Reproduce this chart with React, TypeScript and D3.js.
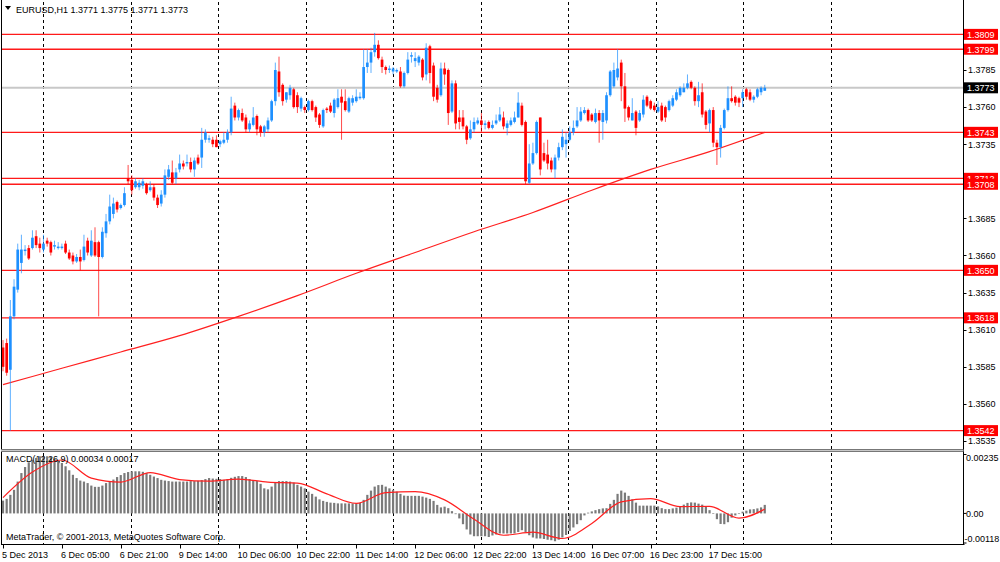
import React from 'react';
import * as d3 from 'd3';

// EURUSD H1 candles, 5 Dec 13:00 .. 18 Dec 07:00 — [open, high, low, close]
const candles: [number, number, number, number][] = [
  [1.3598, 1.3603, 1.3582, 1.3585], [1.3601, 1.3604, 1.3579, 1.3581], [1.3583, 1.3630, 1.3542, 1.3619], [1.3619, 1.3644, 1.3617, 1.3639],
  [1.3637, 1.3668, 1.3635, 1.3664], [1.3655, 1.3674, 1.3648, 1.3664], [1.3663, 1.3667, 1.3660, 1.3664], [1.3665, 1.3667, 1.3657, 1.3658],
  [1.3665, 1.3677, 1.3664, 1.3672], [1.3673, 1.3677, 1.3665, 1.3667], [1.3668, 1.3672, 1.3662, 1.3665], [1.3664, 1.3674, 1.3662, 1.3668],
  [1.3670, 1.3672, 1.3666, 1.3668], [1.3669, 1.3670, 1.3660, 1.3662], [1.3666, 1.3670, 1.3664, 1.3667], [1.3665, 1.3669, 1.3664, 1.3666],
  [1.3665, 1.3668, 1.3664, 1.3666], [1.3668, 1.3670, 1.3661, 1.3662], [1.3662, 1.3664, 1.3657, 1.3658], [1.3660, 1.3662, 1.3654, 1.3656],
  [1.3656, 1.3661, 1.3655, 1.3659], [1.3659, 1.3664, 1.3650, 1.3656], [1.3657, 1.3674, 1.3656, 1.3666], [1.3670, 1.3672, 1.3660, 1.3662],
  [1.3660, 1.3677, 1.3659, 1.3670], [1.3669, 1.3679, 1.3659, 1.3660], [1.3669, 1.3670, 1.3619, 1.3659], [1.3659, 1.3679, 1.3658, 1.3676],
  [1.3675, 1.3688, 1.3672, 1.3683], [1.3683, 1.3701, 1.3681, 1.3693], [1.3688, 1.3699, 1.3685, 1.3695], [1.3696, 1.3697, 1.3689, 1.3691],
  [1.3692, 1.3695, 1.3691, 1.3694], [1.3694, 1.3706, 1.3693, 1.3702], [1.3712, 1.3721, 1.3708, 1.3710], [1.3711, 1.3714, 1.3701, 1.3704],
  [1.3706, 1.3712, 1.3705, 1.3710], [1.3706, 1.3711, 1.3704, 1.3709], [1.3707, 1.3712, 1.3705, 1.3710], [1.3708, 1.3709, 1.3701, 1.3702],
  [1.3704, 1.3710, 1.3703, 1.3706], [1.3706, 1.3708, 1.3697, 1.3699], [1.3699, 1.3701, 1.3692, 1.3694], [1.3695, 1.3704, 1.3693, 1.3701],
  [1.3701, 1.3718, 1.3699, 1.3714], [1.3713, 1.3721, 1.3711, 1.3718], [1.3716, 1.3724, 1.3708, 1.3709], [1.3712, 1.3719, 1.3708, 1.3716],
  [1.3718, 1.3728, 1.3716, 1.3722], [1.3722, 1.3724, 1.3718, 1.3720], [1.3722, 1.3728, 1.3720, 1.3723], [1.3723, 1.3726, 1.3716, 1.3718],
  [1.3718, 1.3726, 1.3713, 1.3724], [1.3726, 1.3728, 1.3721, 1.3722], [1.3726, 1.3746, 1.3719, 1.3738], [1.3738, 1.3745, 1.3736, 1.3743],
  [1.3738, 1.3741, 1.3736, 1.3739], [1.3738, 1.3740, 1.3733, 1.3735], [1.3738, 1.3741, 1.3733, 1.3733], [1.3735, 1.3738, 1.3733, 1.3737],
  [1.3736, 1.3743, 1.3735, 1.3738], [1.3738, 1.3745, 1.3736, 1.3743], [1.3743, 1.3767, 1.3741, 1.3759], [1.3761, 1.3763, 1.3751, 1.3753],
  [1.3753, 1.3759, 1.3751, 1.3758], [1.3756, 1.3759, 1.3750, 1.3751], [1.3753, 1.3755, 1.3743, 1.3745], [1.3745, 1.3751, 1.3743, 1.3749],
  [1.3748, 1.3760, 1.3747, 1.3753], [1.3754, 1.3755, 1.3741, 1.3745], [1.3747, 1.3748, 1.3740, 1.3743], [1.3743, 1.3748, 1.3740, 1.3747],
  [1.3745, 1.3753, 1.3743, 1.3751], [1.3751, 1.3765, 1.3750, 1.3764], [1.3764, 1.3790, 1.3761, 1.3785], [1.3784, 1.3794, 1.3767, 1.3770],
  [1.3775, 1.3776, 1.3761, 1.3764], [1.3765, 1.3770, 1.3763, 1.3770], [1.3768, 1.3775, 1.3765, 1.3773], [1.3772, 1.3773, 1.3759, 1.3760],
  [1.3768, 1.3770, 1.3756, 1.3760], [1.3759, 1.3767, 1.3757, 1.3766], [1.3760, 1.3761, 1.3756, 1.3758], [1.3758, 1.3765, 1.3757, 1.3764],
  [1.3764, 1.3765, 1.3757, 1.3758], [1.3760, 1.3761, 1.3750, 1.3753], [1.3755, 1.3756, 1.3746, 1.3748], [1.3747, 1.3759, 1.3746, 1.3758],
  [1.3759, 1.3760, 1.3756, 1.3758], [1.3761, 1.3763, 1.3756, 1.3757], [1.3756, 1.3766, 1.3753, 1.3765], [1.3760, 1.3772, 1.3759, 1.3766],
  [1.3767, 1.3772, 1.3738, 1.3763], [1.3764, 1.3772, 1.3757, 1.3758], [1.3757, 1.3767, 1.3756, 1.3766], [1.3763, 1.3768, 1.3761, 1.3766],
  [1.3764, 1.3772, 1.3763, 1.3767], [1.3766, 1.3770, 1.3765, 1.3767], [1.3766, 1.3799, 1.3765, 1.3787], [1.3787, 1.3799, 1.3783, 1.3790],
  [1.3790, 1.3800, 1.3783, 1.3797], [1.3797, 1.3810, 1.3794, 1.3802], [1.3802, 1.3805, 1.3792, 1.3793], [1.3792, 1.3794, 1.3783, 1.3787],
  [1.3787, 1.3788, 1.3782, 1.3785], [1.3785, 1.3788, 1.3783, 1.3786], [1.3784, 1.3787, 1.3782, 1.3786], [1.3784, 1.3786, 1.3783, 1.3785],
  [1.3784, 1.3787, 1.3773, 1.3774], [1.3774, 1.3784, 1.3773, 1.3783], [1.3783, 1.3797, 1.3782, 1.3792], [1.3794, 1.3797, 1.3790, 1.3795],
  [1.3791, 1.3797, 1.3787, 1.3793], [1.3790, 1.3795, 1.3788, 1.3794], [1.3792, 1.3793, 1.3778, 1.3780], [1.3782, 1.3803, 1.3778, 1.3800],
  [1.3801, 1.3802, 1.3776, 1.3783], [1.3788, 1.3790, 1.3764, 1.3767], [1.3773, 1.3775, 1.3763, 1.3765], [1.3768, 1.3790, 1.3767, 1.3786],
  [1.3786, 1.3790, 1.3775, 1.3782], [1.3785, 1.3786, 1.3748, 1.3756], [1.3757, 1.3778, 1.3756, 1.3776], [1.3776, 1.3778, 1.3745, 1.3749],
  [1.3753, 1.3758, 1.3745, 1.3750], [1.3753, 1.3758, 1.3745, 1.3747], [1.3747, 1.3748, 1.3735, 1.3738], [1.3739, 1.3751, 1.3738, 1.3745],
  [1.3745, 1.3753, 1.3743, 1.3750], [1.3749, 1.3753, 1.3748, 1.3751], [1.3751, 1.3756, 1.3743, 1.3748], [1.3748, 1.3751, 1.3745, 1.3749],
  [1.3750, 1.3751, 1.3745, 1.3746], [1.3746, 1.3751, 1.3745, 1.3748], [1.3749, 1.3755, 1.3748, 1.3751], [1.3751, 1.3760, 1.3750, 1.3755],
  [1.3753, 1.3757, 1.3745, 1.3747], [1.3746, 1.3751, 1.3741, 1.3749], [1.3748, 1.3753, 1.3747, 1.3751], [1.3750, 1.3757, 1.3749, 1.3753],
  [1.3753, 1.3770, 1.3753, 1.3763], [1.3761, 1.3763, 1.3747, 1.3748], [1.3750, 1.3751, 1.3708, 1.3710], [1.3709, 1.3735, 1.3708, 1.3722],
  [1.3722, 1.3736, 1.3721, 1.3729], [1.3729, 1.3751, 1.3728, 1.3750], [1.3753, 1.3753, 1.3714, 1.3718], [1.3729, 1.3736, 1.3723, 1.3724],
  [1.3728, 1.3738, 1.3718, 1.3722], [1.3724, 1.3726, 1.3716, 1.3718], [1.3718, 1.3728, 1.3712, 1.3726], [1.3726, 1.3736, 1.3724, 1.3733],
  [1.3733, 1.3745, 1.3731, 1.3740], [1.3735, 1.3743, 1.3726, 1.3738], [1.3738, 1.3747, 1.3737, 1.3743], [1.3743, 1.3751, 1.3741, 1.3746],
  [1.3747, 1.3760, 1.3746, 1.3751], [1.3751, 1.3760, 1.3750, 1.3757], [1.3756, 1.3760, 1.3755, 1.3758], [1.3758, 1.3759, 1.3750, 1.3751],
  [1.3755, 1.3756, 1.3750, 1.3751], [1.3750, 1.3759, 1.3749, 1.3756], [1.3756, 1.3758, 1.3736, 1.3751], [1.3750, 1.3758, 1.3738, 1.3756],
  [1.3751, 1.3770, 1.3749, 1.3768], [1.3768, 1.3785, 1.3767, 1.3784], [1.3774, 1.3790, 1.3773, 1.3785], [1.3780, 1.3799, 1.3778, 1.3786],
  [1.3790, 1.3792, 1.3764, 1.3774], [1.3774, 1.3783, 1.3750, 1.3759], [1.3760, 1.3761, 1.3751, 1.3753], [1.3751, 1.3766, 1.3751, 1.3756],
  [1.3757, 1.3758, 1.3741, 1.3746], [1.3751, 1.3758, 1.3750, 1.3756], [1.3755, 1.3768, 1.3753, 1.3765], [1.3767, 1.3768, 1.3760, 1.3761],
  [1.3764, 1.3765, 1.3758, 1.3759], [1.3761, 1.3763, 1.3757, 1.3758], [1.3757, 1.3764, 1.3756, 1.3760], [1.3761, 1.3763, 1.3750, 1.3751],
  [1.3760, 1.3761, 1.3750, 1.3753], [1.3758, 1.3765, 1.3757, 1.3764], [1.3761, 1.3768, 1.3760, 1.3766], [1.3765, 1.3772, 1.3764, 1.3770],
  [1.3768, 1.3774, 1.3767, 1.3773], [1.3770, 1.3776, 1.3770, 1.3773], [1.3773, 1.3782, 1.3772, 1.3776], [1.3777, 1.3778, 1.3772, 1.3773],
  [1.3773, 1.3774, 1.3761, 1.3764], [1.3764, 1.3777, 1.3760, 1.3768], [1.3770, 1.3776, 1.3753, 1.3755], [1.3757, 1.3758, 1.3745, 1.3748],
  [1.3749, 1.3759, 1.3743, 1.3758], [1.3758, 1.3760, 1.3733, 1.3736], [1.3736, 1.3738, 1.3721, 1.3733], [1.3733, 1.3748, 1.3726, 1.3746],
  [1.3746, 1.3759, 1.3745, 1.3758], [1.3758, 1.3774, 1.3757, 1.3766], [1.3766, 1.3774, 1.3763, 1.3764], [1.3767, 1.3768, 1.3761, 1.3763],
  [1.3766, 1.3767, 1.3760, 1.3763], [1.3766, 1.3772, 1.3760, 1.3770], [1.3772, 1.3773, 1.3765, 1.3767], [1.3770, 1.3772, 1.3764, 1.3765],
  [1.3765, 1.3768, 1.3763, 1.3767], [1.3767, 1.3773, 1.3766, 1.3772], [1.3770, 1.3774, 1.3768, 1.3773], [1.3771, 1.3775, 1.3771, 1.3773],
];

// moving average (red line) read at a few bars
const maBars = [0, 16, 32, 48, 64, 80, 96, 112, 128, 144, 160, 176, 192, 207];
const maValues = [1.3573, 1.3584, 1.3595, 1.3606, 1.3619, 1.3633, 1.3648, 1.3662, 1.3676, 1.3689, 1.3704, 1.3718, 1.3730, 1.3743];

// MACD main (histogram), one per candle
const macdMain = [
  0.00051, 0.00058, 0.00074, 0.00094, 0.00127, 0.00161, 0.00185, 0.00204, 0.00214, 0.00221, 0.00228, 0.00228, 0.00228, 0.00225, 0.00218, 0.00212,
  0.00201, 0.00188, 0.00172, 0.00154, 0.00141, 0.00131, 0.00127, 0.00121, 0.00111, 0.00106, 0.00106, 0.00111, 0.00121, 0.00129, 0.00135, 0.00145,
  0.00153, 0.00161, 0.00165, 0.00168, 0.00168, 0.00168, 0.00166, 0.00161, 0.00154, 0.00147, 0.00141, 0.00134, 0.00131, 0.00129, 0.00127, 0.00127,
  0.00127, 0.00127, 0.00127, 0.00129, 0.00129, 0.0013, 0.00133, 0.00137, 0.00141, 0.00139, 0.00138, 0.00137, 0.00134, 0.00137, 0.00142, 0.00146,
  0.00149, 0.00149, 0.00145, 0.00137, 0.00133, 0.00129, 0.00118, 0.001, 0.00096, 0.00107, 0.00123, 0.00129, 0.00129, 0.00129, 0.00127, 0.00123,
  0.00114, 0.00107, 0.001, 0.00087, 0.00078, 0.00067, 0.00056, 0.0005, 0.00046, 0.00043, 0.00042, 0.0004, 0.0004, 0.0004, 0.0004, 0.0004,
  0.0004, 0.00042, 0.00054, 0.00074, 0.00091, 0.00107, 0.00113, 0.00114, 0.00107, 0.001, 0.00094, 0.00087, 0.00078, 0.00071, 0.0007, 0.0007,
  0.0007, 0.0007, 0.00067, 0.00063, 0.00058, 0.0005, 0.00034, 0.00024, 0.00027, 0.00021, 0.00009, -0.00003, -0.0002, -0.00043, -0.00064, -0.00084,
  -0.00091, -0.00091, -0.00091, -0.00091, -0.00094, -0.00088, -0.00084, -0.0008, -0.0008, -0.0008, -0.0008, -0.0008, -0.00074, -0.00067, -0.00074, -0.00087,
  -0.00096, -0.001, -0.001, -0.00102, -0.00105, -0.00107, -0.00111, -0.00105, -0.00096, -0.00086, -0.0007, -0.00056, -0.00043, -0.00027, -0.00008, 0.00003,
  0.00008, 0.00013, 0.00017, 0.0002, 0.00021, 0.00038, 0.00054, 0.00078, 0.00091, 0.00083, 0.0007, 0.00056, 0.00043, 0.00031, 0.00031, 0.00031,
  0.00031, 0.00031, 0.00028, 0.00021, 0.00017, 0.00017, 0.0002, 0.00023, 0.00028, 0.00035, 0.00042, 0.00044, 0.00043, 0.00039, 0.00035, 0.00027,
  0.00013, 0, -0.00023, -0.00042, -0.00043, -0.00035, -0.00017, -0.00008, 0, 0.00007, 0.00011, 0.00016, 0.00017, 0.0002, 0.00024, 0.00034,
];

// MACD signal line read at a few bars
const signalBars = [0, 8, 16, 24, 32, 40, 48, 56, 64, 72, 80, 88, 96, 104, 112, 120, 128, 136, 144, 152, 160, 168, 176, 184, 192, 200, 207];
const signalValues = [
  0.00063, 0.00165, 0.00213, 0.00141, 0.00125, 0.00163, 0.00135, 0.00129, 0.00137, 0.00125, 0.00121, 0.00078, 0.0004, 0.00083,
  0.00087, 0.00054, -0.00023, -0.00087, -0.00075, -0.001, -0.0004, 0.00046, 0.00059, 0.00027, 0.00028, -0.00019, 0.00017,
];

const levels = [1.3809, 1.3799, 1.3743, 1.3712, 1.3708, 1.365, 1.3618, 1.3542];
const bidPrice = 1.3773;
const priceTicks = [1.3785, 1.376, 1.3735, 1.3685, 1.366, 1.3635, 1.361, 1.3585, 1.356, 1.3535];
const macdTicks = [0.00235, 0, -0.00118];
const macdTickLabels = ['0.00235', '0.00', '-0.00118'];
const timeLabelBars = [0, 16, 32, 48, 64, 80, 96, 112, 128, 144, 160, 176, 192];
const timeLabels = [
  '5 Dec 2013', '6 Dec 05:00', '6 Dec 21:00', '9 Dec 14:00', '10 Dec 06:00', '10 Dec 22:00', '11 Dec 14:00',
  '12 Dec 06:00', '12 Dec 22:00', '13 Dec 14:00', '16 Dec 07:00', '16 Dec 23:00', '17 Dec 15:00',
];

const W = 1000;
const H = 562;
const axisX = 963.5;
const mainBottom = 449;
const macdTop = 452;
const macdBottom = 544.5;
const FONT = "'Liberation Sans', Arial, sans-serif";
const FS = 9;
const UP = '#1e90ff';
const DOWN = '#ff0000';

const App: React.FC = () => {
  const x = d3.scaleLinear().domain([0, 207]).range([3, 3 + 207 * 3.68]);
  const y = d3.scaleLinear().domain([1.3535, 1.3785]).range([441, 70]);
  const ym = d3.scaleLinear().domain([-0.00118, 0.00235]).range([543, 454.5]);

  const maLine = d3.line<number>()
    .x((_, i) => x(maBars[i]))
    .y(d => y(d))
    .curve(d3.curveMonotoneX);
  const sigLine = d3.line<number>()
    .x((_, i) => x(signalBars[i]))
    .y(d => ym(d))
    .curve(d3.curveMonotoneX);

  // MT4 grid: a dashed line roughly every trading day
  const gridX = d3.range(10).map(k => x(10.9 + 23.78 * k));

  return (
    <svg width={W} height={H} style={{ display: 'block', position: 'absolute', left: 0, top: 0, background: '#fff' }}
      fontFamily={FONT}>
      <rect x={0} y={0} width={W} height={H} fill="#fff" />

      {/* vertical grid */}
      {gridX.map((gx, i) => (
        <g key={`g${i}`}>
          <line x1={Math.round(gx) + 0.5} x2={Math.round(gx) + 0.5} y1={2} y2={mainBottom} stroke="#000" strokeDasharray="3 3" />
          <line x1={Math.round(gx) + 0.5} x2={Math.round(gx) + 0.5} y1={macdTop + 1} y2={macdBottom} stroke="#000" strokeDasharray="3 3" />
        </g>
      ))}

      {/* bid line */}
      <line x1={2} x2={axisX} y1={y(bidPrice)} y2={y(bidPrice)} stroke="#c8c8c8" strokeWidth={2} />

      {/* horizontal levels */}
      {levels.map((lv, i) => (
        <line key={`l${i}`} x1={2} x2={axisX} y1={y(lv)} y2={y(lv)} stroke="#ff1a1a" strokeWidth={1.4} />
      ))}

      {/* moving average */}
      <path d={maLine(maValues) || ''} fill="none" stroke="#ff2020" strokeWidth={1.2} />

      {/* candles */}
      {candles.map(([o, h, l, c], i) => {
        const cx = x(i);
        const col = c >= o ? UP : DOWN;
        const top = y(Math.max(o, c));
        const bh = Math.max(1, y(Math.min(o, c)) - top);
        return (
          <g key={`c${i}`}>
            <line x1={cx} x2={cx} y1={y(h)} y2={y(l)} stroke={col} strokeWidth={1} opacity={0.7} />
            <rect x={cx - 1.35} y={top} width={2.7} height={bh} fill={col} />
          </g>
        );
      })}

      {/* header */}
      <path d="M5,6 L11,6 L8,10 Z" fill="#000" />
      <text x={16} y={13} fontSize={FS} fill="#000">EURUSD,H1  1.3771 1.3775 1.3771 1.3773</text>

      {/* MACD histogram */}
      {macdMain.map((v, i) => (
        <rect key={`m${i}`} x={x(i) - 1.1} width={2.2}
          y={Math.min(ym(v), ym(0))} height={Math.max(0.6, Math.abs(ym(v) - ym(0)))} fill="#7a7a7a" />
      ))}
      <path d={sigLine(signalValues) || ''} fill="none" stroke="#ff2020" strokeWidth={1.2} />
      <text x={6} y={462} fontSize={FS} fill="#000">MACD(12,26,9) 0.00034 0.00017</text>
      <text x={6} y={540} fontSize={FS} fill="#000">MetaTrader, © 2001-2013, MetaQuotes Software Corp.</text>

      {/* frames and separators */}
      <line x1={1.5} x2={1.5} y1={0} y2={macdBottom} stroke="#000" />
      <line x1={axisX} x2={axisX} y1={0} y2={macdBottom} stroke="#000" />
      <line x1={1} x2={axisX} y1={449.5} y2={449.5} stroke="#777" />
      <line x1={1} x2={axisX} y1={451.5} y2={451.5} stroke="#777" />
      <line x1={1} x2={axisX} y1={450.5} y2={450.5} stroke="#c8c8c8" />
      <line x1={1} x2={axisX + 1} y1={macdBottom} y2={macdBottom} stroke="#000" />

      {/* price axis */}
      {priceTicks.map((p, i) => (
        <g key={`p${i}`}>
          <line x1={axisX} x2={axisX + 3} y1={Math.round(y(p)) + 0.5} y2={Math.round(y(p)) + 0.5} stroke="#000" />
          <text x={968} y={y(p) + 3.3} fontSize={FS} fill="#000">{p.toFixed(4)}</text>
        </g>
      ))}
      {levels.map((lv, i) => (
        <g key={`lb${i}`}>
          <rect x={964} y={y(lv) - 5.5} width={34} height={11} fill="#ff0000" />
          <text x={967} y={y(lv) + 3.3} fontSize={FS} fill="#fff">{lv.toFixed(4)}</text>
        </g>
      ))}
      <rect x={964} y={y(bidPrice) - 5.5} width={34} height={11} fill="#000" />
      <text x={967} y={y(bidPrice) + 3.3} fontSize={FS} fill="#fff">{bidPrice.toFixed(4)}</text>

      {/* MACD axis */}
      {macdTicks.map((v, i) => (
        <g key={`mt${i}`}>
          <line x1={axisX} x2={axisX + 3} y1={ym(v)} y2={ym(v)} stroke="#000" />
          <text x={i === 2 ? 964.5 : 966} y={i === 0 ? 461 : i === 2 ? 542 : ym(v) + 3.3} fontSize={FS} fill="#000">{macdTickLabels[i]}</text>
        </g>
      ))}

      {/* time axis */}
      {timeLabelBars.map((b, i) => (
        <g key={`t${i}`}>
          <line x1={Math.round(x(b)) + 0.5} x2={Math.round(x(b)) + 0.5} y1={macdBottom} y2={macdBottom + 4} stroke="#000" />
          <text x={x(b) - 1} y={558} fontSize={FS} fill="#000">{timeLabels[i]}</text>
        </g>
      ))}
    </svg>
  );
};

export default App;
